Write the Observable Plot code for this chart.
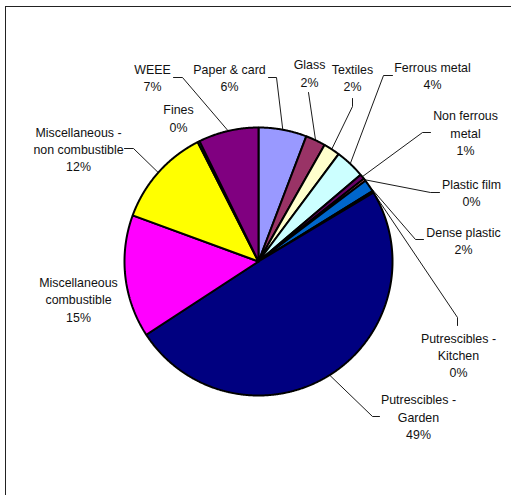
<!DOCTYPE html>
<html><head><meta charset="utf-8">
<script src="https://cdn.jsdelivr.net/npm/d3@7"></script>
<script src="https://cdn.jsdelivr.net/npm/@observablehq/plot@0.6"></script>
<style>
body{margin:0;background:#fff;}
#wrap{position:relative;width:511px;height:495px;overflow:hidden;background:#fff;}
#frame{position:absolute;left:5px;top:6px;width:600px;height:600px;border:1px solid #222;box-sizing:border-box;}
#chart{position:absolute;left:0;top:0;}
</style></head><body>
<div id="wrap"><div id="frame"></div><div id="chart"></div></div>
<script>
// ---- data ----
const categories = ["Paper & card","Glass","Textiles","Ferrous metal","Non ferrous metal","Plastic film","Dense plastic","Putrescibles - Kitchen","Putrescibles - Garden","Miscellaneous combustible","Miscellaneous - non combustible","Fines","WEEE"];
const shares = [5.8, 2.4, 2.0, 3.6, 0.6, 0.3, 1.5, 0.2, 49.4, 14.8, 11.9, 0.25, 7.25];
const labelTexts = ["Paper & card","Glass","Textiles","Ferrous metal","Non ferrous\nmetal","Plastic film","Dense plastic","Putrescibles -\nKitchen","Putrescibles -\nGarden","Miscellaneous\ncombustible","Miscellaneous -\nnon combustible","Fines","WEEE"];
const colors = ["#9999FF","#993366","#FFFFCC","#CCFFFF","#660066","#FF8080","#0066CC","#CCCCFF","#000080","#FF00FF","#FFFF00","#00FFFF","#800080"];

// ---- layout (pixel units of the plot's identity scales) ----
const W = 511, H = 495;
const CX = 258, CY = 261, R = 134;
const labelLayout = [
  {x: 229, y: 76.5, path: [[268, 77], [276, 77]]},
  {x: 309, y: 72, path: [[308, 92]]},
  {x: 352, y: 76.5, path: [[352, 98], [352, 106]]},
  {x: 432, y: 74.5, path: [[392, 75], [383, 75]]},
  {x: 465, y: 131.5, path: [[430, 132], [422, 132]]},
  {x: 471, y: 191.5, path: [[439, 192], [430, 192]]},
  {x: 463, y: 239.5, path: [[423, 239], [415, 239]]},
  {x: 458, y: 354, path: [[457, 325], [457, 317]]},
  {x: 418, y: 415.7, path: [[379, 416], [372, 416]]},
  {x: 78, y: 298.3, path: null},
  {x: 78, y: 148, path: [[124, 148], [133, 148]]},
  {x: 178, y: 117, path: null},
  {x: 152, y: 76.5, path: [[173, 77], [182, 77]]}
];

// ---- geometry from data ----
const arcs = d3.pie().sort(null).value(d => d)(shares);
const pt = (a, r) => ({x: CX + r * Math.sin(a), y: CY - r * Math.cos(a)});
const slices = arcs.map((a, i) => {
  const pts = [{x: CX, y: CY}];
  const n = Math.max(2, Math.ceil((a.endAngle - a.startAngle) / 0.005));
  for (let k = 0; k <= n; k++) pts.push(pt(a.startAngle + (a.endAngle - a.startAngle) * k / n, R));
  pts.push({x: CX, y: CY});
  return {points: pts, color: colors[i]};
});
const leaders = [];
arcs.forEach((a, i) => {
  const p = labelLayout[i].path;
  if (!p) return;
  const mid = (a.startAngle + a.endAngle) / 2;
  p.forEach(([x, y]) => leaders.push({g: i, x, y}));
  const e = pt(mid, R);
  leaders.push({g: i, x: e.x, y: e.y});
});
const labels = categories.map((c, i) => ({
  text: labelTexts[i] + "\n" + Math.round(shares[i]) + "%",
  x: labelLayout[i].x, y: labelLayout[i].y
}));

const chart = Plot.plot({
  width: W, height: H,
  marginTop: 0, marginRight: 0, marginBottom: 0, marginLeft: 0,
  style: {background: "transparent", overflow: "visible"},
  x: {domain: [0, W], range: [0, W], axis: null},
  y: {domain: [0, H], range: [0, H], axis: null},
  marks: [
    Plot.line(leaders, {x: "x", y: "y", z: "g", stroke: "#000", strokeWidth: 0.9}),
    ...slices.map(s => Plot.line(s.points, {x: "x", y: "y", fill: s.color, stroke: "#000", strokeWidth: 2, strokeLinejoin: "miter"})),
    Plot.text(labels, {x: "x", y: "y", text: "text", textAnchor: "middle", lineAnchor: "middle",
      lineHeight: 1.39, fontSize: 12.4, fontFamily: "Liberation Sans, Arial, sans-serif", fill: "#111"})
  ]
});
document.getElementById("chart").appendChild(chart);
</script>
</body></html>
